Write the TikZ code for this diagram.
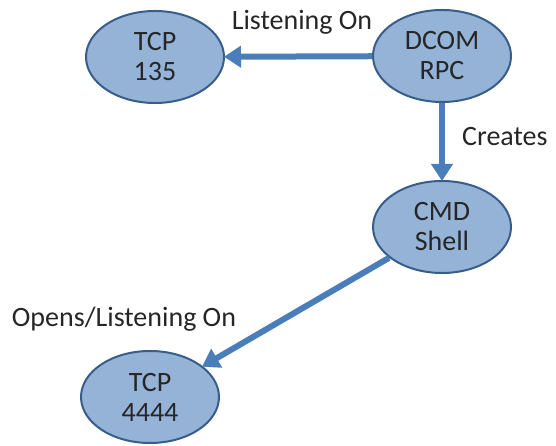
\documentclass[tikz,border=0pt]{standalone}
\usepackage{fontspec}
\setmainfont{Carlito}
\usetikzlibrary{arrows.meta,shapes.geometric}
\definecolor{bubblefill}{HTML}{95B3D7}
\definecolor{bubbleline}{HTML}{385D8A}
\definecolor{linkblue}{HTML}{4A7EBB}
\definecolor{inktext}{HTML}{262626}
\begin{document}
\begin{tikzpicture}[x=1pt,y=1pt,
    bubble/.style={ellipse,draw=bubbleline,fill=bubblefill,line width=2pt,
      minimum width=138pt,minimum height=92pt,inner sep=0pt,align=center,
      text=inktext,font=\fontsize{28}{30}\selectfont},
    link/.style={draw=linkblue,line width=6pt,-{Triangle[length=17pt,width=21pt]},shorten >=-1pt},
    tag/.style={text=inktext,font=\fontsize{28}{30}\selectfont,inner sep=0pt}]
    \useasboundingbox (0,0) rectangle (556,446);
    \node[bubble] (tcpA) at (155,389) {TCP\\135};
    \node[bubble] (dcom) at (442,390) {DCOM\\RPC};
    \node[bubble] (cmd) at (442,219) {CMD\\Shell};
    \node[bubble] (tcpB) at (150,49) {TCP\\4444};
    \draw[link] (dcom) -- (tcpA);
    \draw[link] (dcom) -- (cmd);
    \draw[link] (cmd) -- (tcpB);
    \node[tag] (lblA) at (302,424) {Listening On};
    \node[tag,anchor=west] (lblB) at (462,309) {Creates};
    \node[tag] (lblC) at (124,127) {Opens/Listening On};
  \end{tikzpicture}
\end{document}
